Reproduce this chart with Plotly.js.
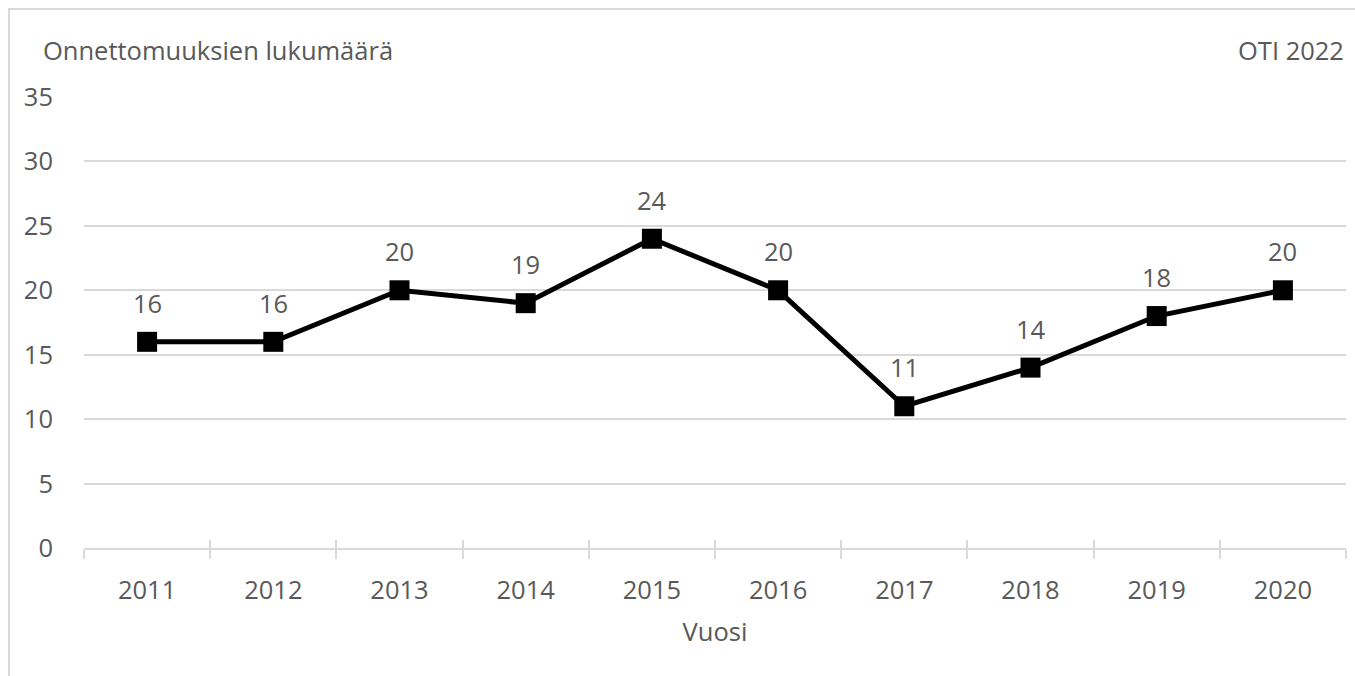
<!DOCTYPE html>
<html>
<head>
<meta charset="utf-8">
<script src="https://cdn.plot.ly/plotly-3.0.1.min.js"></script>
<style>
html,body{margin:0;padding:0;background:#fff;overflow:hidden;}
#frame{position:absolute;left:8px;top:8px;width:1400px;height:700px;border-left:2px solid #d9d9d9;border-top:2px solid #d9d9d9;box-sizing:border-box;}
#chart{position:absolute;left:0;top:0;width:1355px;height:676px;}
</style>
</head>
<body>
<div id="frame"></div>
<div id="chart"></div>
<script>
const years = ['2011','2012','2013','2014','2015','2016','2017','2018','2019','2020'];
const accidents = [16, 16, 20, 19, 24, 20, 11, 14, 18, 20];
const yTicks = [0, 5, 10, 15, 20, 25, 30, 35];
const yTitle = 'Onnettomuuksien lukumäärä';
const xTitle = 'Vuosi';
const sourceText = 'OTI 2022';

const FONT = 'Open Sans, Noto Sans, sans-serif';
const FS = 25.5;
const GREY = '#595959';
const LINE = '#d9d9d9';

const traces = [
  {
    x: years, y: accidents, type: 'scatter', mode: 'lines+markers',
    line: {color: '#000', width: 5},
    marker: {symbol: 'square', size: 20, color: '#000'},
    hoverinfo: 'x+y', cliponaxis: false
  },
  {
    x: years, y: accidents, xaxis: 'x2', type: 'scatter', mode: 'markers',
    marker: {opacity: 0}, hoverinfo: 'skip', showlegend: false
  }
];

const annotations = years.map((yr, i) => ({
  x: i, y: accidents[i], xref: 'x', yref: 'y', text: String(accidents[i]),
  showarrow: false, yshift: 39, font: {family: FONT, size: FS, color: GREY}
}));
annotations.push({
  xref: 'paper', yref: 'paper', x: -0.034, y: 1.0, yshift: 47, xanchor: 'left', yanchor: 'middle',
  text: yTitle, showarrow: false, font: {family: FONT, size: FS, color: GREY}
});
annotations.push({
  xref: 'paper', yref: 'paper', x: 1.0, y: 1.0, yshift: 47, xanchor: 'right', yanchor: 'middle',
  text: sourceText, showarrow: false, font: {family: FONT, size: FS, color: GREY}
});

const layout = {
  width: 1355, height: 676,
  margin: {l: 84, r: 9, t: 97, b: 128},
  paper_bgcolor: 'rgba(0,0,0,0)', plot_bgcolor: 'rgba(0,0,0,0)',
  showlegend: false,
  font: {family: FONT, size: FS, color: GREY},
  xaxis: {
    type: 'category', categoryorder: 'array', categoryarray: years,
    range: [-0.5, years.length - 0.5], fixedrange: true,
    showgrid: false, zeroline: false,
    showline: true, linecolor: LINE, linewidth: 2,
    ticks: 'outside', tickson: 'boundaries', ticklen: 9, tickwidth: 2, tickcolor: LINE,
    ticklabelstandoff: 18,
    tickfont: {family: FONT, size: FS, color: GREY},
    title: {text: xTitle, font: {family: FONT, size: FS, color: GREY}, standoff: 19}
  },
  xaxis2: {
    type: 'category', categoryorder: 'array', categoryarray: years,
    overlaying: 'x', anchor: 'y', side: 'bottom',
    range: [-0.5, years.length - 0.5], fixedrange: true,
    showgrid: false, zeroline: false, showline: false, showticklabels: false,
    ticks: 'inside', tickson: 'boundaries', ticklen: 8, tickwidth: 2, tickcolor: LINE
  },
  yaxis: {
    range: [0, 35], tickmode: 'array', tickvals: yTicks, ticktext: yTicks.map(String),
    fixedrange: true,
    showgrid: true, gridcolor: LINE, gridwidth: 2,
    zeroline: false, showline: false, ticks: '',
    ticklabelstandoff: 30,
    tickfont: {family: FONT, size: FS, color: GREY}
  },
  annotations: annotations
};

Plotly.newPlot('chart', traces, layout, {displayModeBar: false});
</script>
</body>
</html>
